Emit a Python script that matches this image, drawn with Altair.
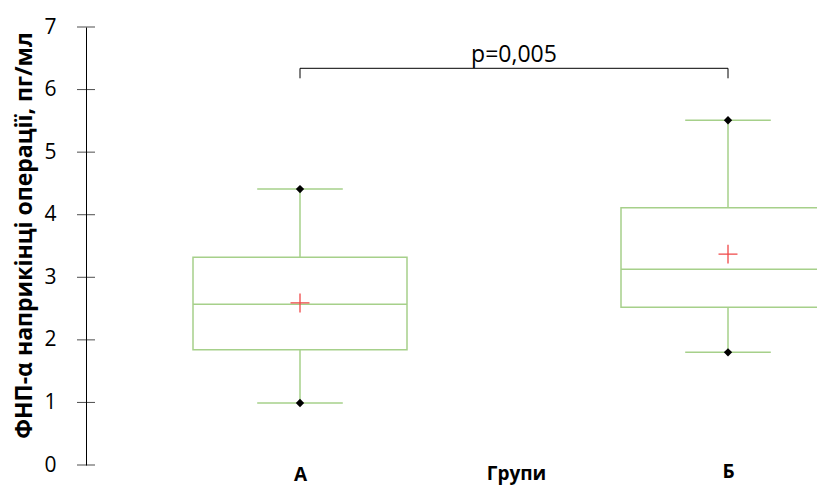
import altair as alt
import pandas as pd

# ---- data ----
groups = ["А", "Б"]
whisker_low = [0.99, 1.80]
q1 = [1.84, 2.52]
median = [2.57, 3.13]
q3 = [3.32, 4.11]
whisker_high = [4.41, 5.51]
means = [2.59, 3.37]
y_tick_values = [0, 1, 2, 3, 4, 5, 6, 7]
bracket_level = 6.34
bracket_drop = 6.18
p_text = "p=0,005"
p_level = 6.44
x_title = "Групи"
y_title = "ФНП-α наприкінці операції, пг/мл"

GREEN = "#a6d08a"
FONT = "Open Sans"
BOX_HALF = 0.25
CAP_HALF = 0.1
PLOT_W = 731
PLOT_H = 438
PX_PER_UNIT = 428

pos = [i + 1 for i in range(len(groups))]
df = pd.DataFrame({
    "pos": pos, "group": groups, "lo": whisker_low, "q1": q1, "med": median,
    "q3": q3, "hi": whisker_high, "mean": means,
})
df["bl"] = df["pos"] - BOX_HALF
df["br"] = df["pos"] + BOX_HALF
df["cl"] = df["pos"] - CAP_HALF
df["cr"] = df["pos"] + CAP_HALF

label_expr = "[" + ",".join("'" + g + "'" for g in groups) + "][datum.value - 1]"

xscale = alt.Scale(domain=[0.5, 0.5 + PLOT_W / PX_PER_UNIT], nice=False, zero=False)
yscale = alt.Scale(domain=[0, 7], nice=False)

x_axis = alt.Axis(
    values=pos, labelExpr=label_expr, domain=False, ticks=False, grid=False,
    labelFont=FONT, labelFontSize=19, labelFontWeight="bold", labelColor="black",
    labelBaseline="alphabetic",
    labelPadding={"condition": {"test": "datum.value == 2", "value": 12}, "value": 15},
    titleFont=FONT, titleFontSize=19, titleFontWeight="bold",
    titleColor="black", titleX=430, titleY=14, titleBaseline="alphabetic",
    titleAnchor="start", titleAlign="center")
y_axis = alt.Axis(
    values=y_tick_values, format="d", domain=True, domainColor="black", ticks=False,
    tickSize=0, grid=False, labelFont=FONT, labelFontSize=21, labelColor="black",
    labelPadding=30,
    titleFont=FONT, titleFontSize=23, titleFontWeight="bold", titleColor="black",
    titleAngle=270, titleX=-62, titleY=208, titleBaseline="middle", titleAlign="center",
    titleAnchor="start")

base = alt.Chart(df)

box = base.mark_rect(fill="white", fillOpacity=0, stroke=GREEN, strokeWidth=1.5, clip=True).encode(
    x=alt.X("bl:Q", scale=xscale, axis=x_axis, title=x_title), x2="br:Q",
    y=alt.Y("q1:Q", scale=yscale, axis=y_axis, title=y_title), y2="q3:Q")
med_rule = base.mark_rule(color=GREEN, strokeWidth=1.5, clip=True).encode(
    x="bl:Q", x2="br:Q", y="med:Q")
wh_up = base.mark_rule(color=GREEN, strokeWidth=1.5).encode(x="pos:Q", y="q3:Q", y2="hi:Q")
wh_dn = base.mark_rule(color=GREEN, strokeWidth=1.5).encode(x="pos:Q", y="lo:Q", y2="q1:Q")
cap_up = base.mark_rule(color=GREEN, strokeWidth=1.5).encode(x="cl:Q", x2="cr:Q", y="hi:Q")
cap_dn = base.mark_rule(color=GREEN, strokeWidth=1.5).encode(x="cl:Q", x2="cr:Q", y="lo:Q")
dia_up = base.mark_point(shape="diamond", filled=True, color="black", size=70, opacity=1).encode(
    x="pos:Q", y="hi:Q")
dia_dn = base.mark_point(shape="diamond", filled=True, color="black", size=70, opacity=1).encode(
    x="pos:Q", y="lo:Q")
mean_pt = base.mark_point(shape="M-1,0H1M0,-1V1", filled=False, stroke="#f04848",
                          strokeWidth=1.3, size=360, opacity=1).encode(x="pos:Q", y="mean:Q")

bracket_df = pd.DataFrame({"x1": [pos[0]], "x2": [pos[-1]], "yb": [bracket_level],
                           "yd": [bracket_drop], "xm": [(pos[0] + pos[-1]) / 2],
                           "yt": [p_level], "t": [p_text]})
bb = alt.Chart(bracket_df)
br_h = bb.mark_rule(color="black", strokeWidth=1).encode(x="x1:Q", x2="x2:Q", y="yb:Q")
br_l = bb.mark_rule(color="black", strokeWidth=1).encode(x="x1:Q", y="yd:Q", y2="yb:Q")
br_r = bb.mark_rule(color="black", strokeWidth=1).encode(x="x2:Q", y="yd:Q", y2="yb:Q")
p_lab = bb.mark_text(font=FONT, fontSize=23, color="black", baseline="alphabetic").encode(
    x="xm:Q", y="yt:Q", text="t:N")

tick_df = pd.DataFrame({"v": y_tick_values})
yticks = alt.Chart(tick_df).mark_tick(color="black", thickness=1, size=18, orient="horizontal").encode(
    y="v:Q", x=alt.value(0))

chart = alt.layer(
    box, med_rule, wh_up, wh_dn, cap_up, cap_dn, dia_up, dia_dn, mean_pt,
    br_h, br_l, br_r, p_lab, yticks
).properties(
    width=PLOT_W, height=PLOT_H,
    autosize=alt.AutoSizeParams(type="none"),
    padding={"left": 78, "top": 19, "right": 0, "bottom": 21},
).configure_view(stroke=None)

chart.save("out.html", embed_options={"renderer": "svg", "actions": False})
